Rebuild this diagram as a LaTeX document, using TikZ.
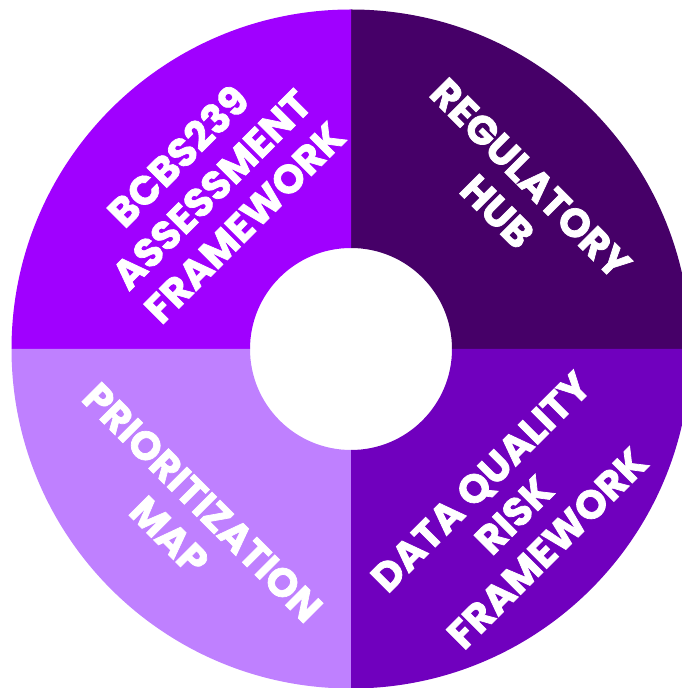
\documentclass[tikz,border=0pt]{standalone}
\usepackage{fontspec}
\setmainfont{Poppins}[BoldFeatures={FakeBold=1.8}]
\definecolor{qtl}{HTML}{A000FF}
\definecolor{qtr}{HTML}{460068}
\definecolor{qbl}{HTML}{BF80FF}
\definecolor{qbr}{HTML}{7000BE}
\begin{document}
\begin{tikzpicture}[x=1pt,y=1pt,
  lbl/.style={text=white,align=center,font=\bfseries\fontsize{40}{47}\selectfont,inner sep=0pt}]
\useasboundingbox (0,0) rectangle (682,688);
\clip (0,0) rectangle (682,688);
\coordinate (c) at (351,339);
\def\Ro{339.5}
\def\Ri{101}
\fill[qtr] ([shift={(0:\Ri)}]c) -- ([shift={(0:\Ro)}]c) arc[start angle=0,end angle=90,radius=\Ro] -- ([shift={(90:\Ri)}]c) arc[start angle=90,end angle=0,radius=\Ri] -- cycle;
\fill[qtl] ([shift={(90:\Ri)}]c) -- ([shift={(90:\Ro)}]c) arc[start angle=90,end angle=180,radius=\Ro] -- ([shift={(180:\Ri)}]c) arc[start angle=180,end angle=90,radius=\Ri] -- cycle;
\fill[qbl] ([shift={(180:\Ri)}]c) -- ([shift={(180:\Ro)}]c) arc[start angle=180,end angle=270,radius=\Ro] -- ([shift={(270:\Ri)}]c) arc[start angle=270,end angle=180,radius=\Ri] -- cycle;
\fill[qbr] ([shift={(270:\Ri)}]c) -- ([shift={(270:\Ro)}]c) arc[start angle=270,end angle=360,radius=\Ro] -- ([shift={(0:\Ri)}]c) arc[start angle=360,end angle=270,radius=\Ri] -- cycle;
\node[lbl,rotate=45] (tl) at (211,499) {BCBS239\\ASSESSMENT\\FRAMEWORK};
\node[lbl,rotate=-45] (tr) at (514,493) {REGULATORY\\HUB};
\node[lbl,rotate=-45] (bl) at (186,169) {PRIORITIZATION\\MAP};
\node[lbl,rotate=45] (br) at (514,173) {DATA QUALITY\\RISK\\FRAMEWORK};
\end{tikzpicture}
\end{document}
